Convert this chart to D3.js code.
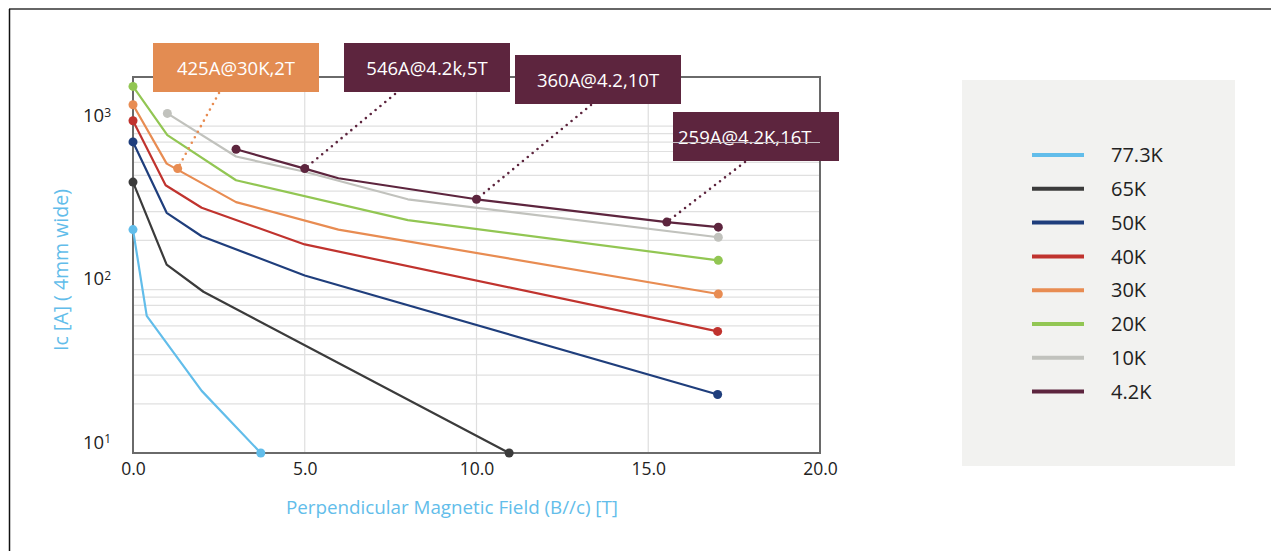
<!DOCTYPE html>
<html>
<head>
<meta charset="utf-8">
<script src="https://cdn.jsdelivr.net/npm/d3@7"></script>
<style>
  body { margin: 0; background: #fff; }
  svg { display: block; font-family: "Open Sans", "Noto Sans", sans-serif; }
</style>
</head>
<body>
<div id="chart"></div>
<script>
// temperatures, one line each (legend order)
var temps = ["77.3K", "65K", "50K", "40K", "30K", "20K", "10K", "4.2K"];
var colors = ["#62bdea", "#3b3b3b", "#1f3e7c", "#c0332e", "#e88c52", "#92c653", "#c1c2bd", "#5d253e"];

// [B (T), Ic (A)]
var k773 = [[0, 233], [0.4, 69], [2.0, 24], [3.72, 10]];
var k65 = [[0, 455], [0.98, 142], [2.05, 97], [10.95, 10]];
var k50 = [[0, 801], [0.98, 295], [2.0, 212], [5.0, 122], [17.02, 22.8]];
var k40 = [[0, 1079], [0.95, 435], [2.0, 317], [5.0, 189], [17.02, 55.5]];
var k30 = [[0, 1352], [0.98, 590], [3.0, 343], [5.98, 233], [17.04, 94]];
var k20 = [[0, 1752], [1.0, 881], [3.0, 467], [8.0, 266], [17.04, 151]];
var k10 = [[1.0, 1197], [3.0, 652], [5.0, 526], [8.0, 357], [17.04, 209]];
var k42 = [[3.0, 722], [5.0, 550], [5.98, 480], [10.0, 357], [15.54, 259], [17.04, 241]];
var lines = [k773, k65, k50, k40, k30, k20, k10, k42];

var xTicks = [0, 5, 10, 15, 20];
var yTicks = [10, 100, 1000];

// callouts
var notes = ["425A@30K,2T", "546A@4.2k,5T", "360A@4.2,10T", "259A@4.2K,16T"];
var noteTemp = ["30K", "4.2K", "4.2K", "4.2K"];
var noteB = [1.3, 5.0, 10.0, 15.54];
var noteIc = [550, 550, 357, 259];

var W = 1271, H = 551;
var m = {left: 133, top: 77, right: 820, bottom: 453};

var svg = d3.select('#chart').append('svg')
	.attr('width', W)
	.attr('height', H);

// outer frame (top + left only)
svg.append('line').attr('x1', 9).attr('x2', W).attr('y1', 9).attr('y2', 9)
	.style('stroke', '#666').style('stroke-width', 2);
svg.append('line').attr('x1', 9.5).attr('x2', 9.5).attr('y1', 9).attr('y2', H)
	.style('stroke', '#111').style('stroke-width', 1.5);

var x = d3.scaleLinear().domain([0, 20]).range([m.left, m.right]);
var y = d3.scaleLog().domain([10, 2000]).range([m.bottom, m.top]);

// grid
var minor = [];
[10, 100].forEach(function(d){
	for (var i = 1; i <= 9; i++) minor.push(d * i);
});
minor.push(1000);
svg.append('g').selectAll('line')
	.data(minor.filter(function(d){ return d > 10; }))
	.enter().append('line')
	.attr('x1', m.left).attr('x2', m.right)
	.attr('y1', function(d){ return y(d); })
	.attr('y2', function(d){ return y(d); })
	.style('stroke', '#e0e0e0').style('stroke-width', 1.2);
svg.append('g').selectAll('line')
	.data([5, 10, 15])
	.enter().append('line')
	.attr('x1', function(d){ return x(d); })
	.attr('x2', function(d){ return x(d); })
	.attr('y1', m.top).attr('y2', m.bottom)
	.style('stroke', '#dedede').style('stroke-width', 1.2);

// plot box
svg.append('rect')
	.attr('x', m.left).attr('y', m.top)
	.attr('width', m.right - m.left).attr('height', m.bottom - m.top)
	.style('fill', 'none').style('stroke', '#6a6a6a').style('stroke-width', 2);

// x axis
var xAxis = svg.append('g')
	.attr('transform', 'translate(0,' + m.bottom + ')')
	.call(d3.axisBottom(x).tickValues(xTicks).tickSize(0).tickPadding(10).tickFormat(d3.format('.1f')));
xAxis.select('.domain').remove();
xAxis.selectAll('text').style('font-size', '17.5px').style('fill', '#222')
	.style('font-family', '"Open Sans", sans-serif');

// y axis, labels sit a little above their value like the original
var yAxis = svg.append('g')
	.attr('transform', 'translate(' + m.left + ',0)')
	.call(d3.axisLeft(y).tickValues(yTicks).tickSize(0).tickPadding(22).tickFormat(''));
yAxis.select('.domain').remove();
yAxis.selectAll('.tick text')
	.attr('dy', '-0.25em')
	.style('font-size', '18.5px').style('fill', '#222')
	.style('font-family', '"Open Sans", sans-serif')
	.each(function(d){
		var t = d3.select(this);
		t.append('tspan').text('10');
		t.append('tspan').attr('dy', '-0.45em').style('font-size', '12px').text(Math.round(Math.log10(d)));
	});

svg.append('text')
	.attr('transform', 'translate(68,270) rotate(-90)')
	.attr('text-anchor', 'middle')
	.style('font-size', '19.5px').style('fill', '#62bdea')
	.text('Ic [A] ( 4mm wide)');
svg.append('text')
	.attr('x', 452).attr('y', 514)
	.attr('text-anchor', 'middle')
	.style('font-size', '18.8px').style('fill', '#62bdea')
	.text('Perpendicular Magnetic Field (B//c) [T]');

// lines
var line = d3.line()
	.x(function(d){ return x(d[0]); })
	.y(function(d){ return y(d[1]); });

svg.append('g').selectAll('path')
	.data(lines)
	.enter().append('path')
	.attr('d', line)
	.style('fill', 'none')
	.style('stroke', function(d, i){ return colors[i]; })
	.style('stroke-width', 2.2)
	.style('stroke-linejoin', 'round');

// end dots
var ends = [];
lines.forEach(function(s, i){
	ends.push({p: s[0], c: colors[i]});
	ends.push({p: s[s.length - 1], c: colors[i]});
});
svg.append('g').selectAll('circle')
	.data(ends)
	.enter().append('circle')
	.attr('cx', function(d){ return x(d.p[0]); })
	.attr('cy', function(d){ return y(d.p[1]); })
	.attr('r', 4.5)
	.style('fill', function(d){ return d.c; });

// callout boxes (layout only)
var boxes = [
	{x: 153, y: 43, w: 166, h: 49, ax: 219, ay: 93, fill: '#e38c52', anchor: 'middle'},
	{x: 344, y: 43, w: 166, h: 49, ax: 395, ay: 94, fill: '#5d253e', anchor: 'middle'},
	{x: 515, y: 55, w: 166, h: 49, ax: 591, ay: 105, fill: '#5d253e', anchor: 'middle'},
	{x: 673, y: 112, w: 166, h: 49, ax: 745, ay: 162, fill: '#5d253e', anchor: 'start'}
];

var note = svg.append('g').selectAll('g')
	.data(notes)
	.enter().append('g');

note.append('line')
	.attr('x1', function(d, i){ return boxes[i].ax; })
	.attr('y1', function(d, i){ return boxes[i].ay; })
	.attr('x2', function(d, i){ return x(noteB[i]); })
	.attr('y2', function(d, i){ return y(noteIc[i]); })
	.style('stroke', function(d, i){ return colors[temps.indexOf(noteTemp[i])]; })
	.style('stroke-width', 2.6)
	.style('stroke-linecap', 'round')
	.style('stroke-dasharray', '0 6.3');

note.append('circle')
	.attr('cx', function(d, i){ return x(noteB[i]); })
	.attr('cy', function(d, i){ return y(noteIc[i]); })
	.attr('r', 4.5)
	.style('fill', function(d, i){ return colors[temps.indexOf(noteTemp[i])]; });

note.append('rect')
	.attr('x', function(d, i){ return boxes[i].x; })
	.attr('y', function(d, i){ return boxes[i].y; })
	.attr('width', function(d, i){ return boxes[i].w; })
	.attr('height', function(d, i){ return boxes[i].h; })
	.style('fill', function(d, i){ return boxes[i].fill; });

note.append('text')
	.attr('x', function(d, i){ return boxes[i].anchor == 'start' ? boxes[i].x + 5 : boxes[i].x + boxes[i].w / 2; })
	.attr('y', function(d, i){ return boxes[i].y + 32; })
	.attr('text-anchor', function(d, i){ return boxes[i].anchor; })
	.style('font-size', '18.5px').style('fill', '#fff')
	.text(function(d){ return d; });

// the grid line that shows through the last box
svg.append('line')
	.attr('x1', 673).attr('x2', m.right)
	.attr('y1', y(800) + 0.5).attr('y2', y(800) + 0.5)
	.style('stroke', '#c9c1c5').style('stroke-width', 1);

// legend
var legend = svg.append('g');
legend.append('rect')
	.attr('x', 962).attr('y', 80).attr('width', 273).attr('height', 386)
	.style('fill', '#f2f2f0');

var item = legend.selectAll('.item')
	.data(temps)
	.enter().append('g')
	.attr('class', 'item')
	.attr('transform', function(d, i){ return 'translate(0,' + (155 + i * 33.8) + ')'; });
item.append('line')
	.attr('x1', 1032).attr('x2', 1084)
	.style('stroke', function(d, i){ return colors[i]; })
	.style('stroke-width', 4);
item.append('text')
	.attr('x', 1111).attr('dy', '0.36em')
	.style('font-size', '20px').style('fill', '#222')
	.text(function(d){ return d; });
</script>
</body>
</html>
